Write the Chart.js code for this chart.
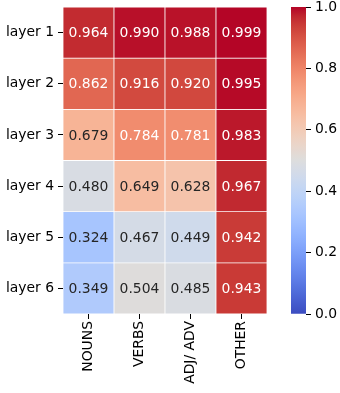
<!DOCTYPE html>
<html lang="en">
<head>
<meta charset="UTF-8" />
<title>Layer heatmap</title>
<script src="https://cdn.jsdelivr.net/npm/chart.js"></script>
<style>
    body { margin: 0; background: #ffffff; width: 340px; height: 393px; overflow: hidden; position: relative; }
    #heatBox { position: absolute; left: 0; top: 0; width: 280px; height: 393px; }
    #cbarBox { position: absolute; left: 280px; top: 0; width: 60px; height: 393px; }
</style>
</head>
<body>
<div id="heatBox"><canvas id="heat"></canvas></div>
<div id="cbarBox"><canvas id="cbar"></canvas></div>

<script>
    // data
    const columns = ['NOUNS', 'VERBS', 'ADJ/ ADV', 'OTHER'];
    const layers = ['layer 1', 'layer 2', 'layer 3', 'layer 4', 'layer 5', 'layer 6'];
    const nouns  = [0.964, 0.862, 0.679, 0.480, 0.324, 0.349];
    const verbs  = [0.990, 0.916, 0.784, 0.649, 0.467, 0.504];
    const adjAdv = [0.988, 0.920, 0.781, 0.628, 0.449, 0.485];
    const other  = [0.999, 0.995, 0.983, 0.967, 0.942, 0.943];
    const cbarTicks = [0, 0.2, 0.4, 0.6, 0.8, 1.0];

    const FONT = { family: "'DejaVu Sans', sans-serif", size: 13.9 };

    // coolwarm colormap (Moreland table, 33 stops)
    const coolwarm = [
        [59,76,192],[68,90,204],[77,104,215],[87,117,225],[98,130,234],[108,142,241],
        [119,154,247],[130,165,251],[141,176,254],[152,185,255],[163,194,255],[174,201,253],
        [184,208,249],[194,213,244],[204,217,238],[213,219,230],[221,221,221],[229,216,209],
        [236,211,197],[241,204,184],[245,196,172],[247,187,159],[247,177,147],[247,166,134],
        [244,154,123],[241,141,111],[236,127,99],[229,112,88],[222,96,77],[213,80,66],
        [203,62,56],[192,40,47],[180,4,38]
    ];

    function cmap(v) {
        const t = Math.min(1, Math.max(0, v)) * (coolwarm.length - 1);
        const i = Math.min(Math.floor(t), coolwarm.length - 2);
        const f = t - i;
        const a = coolwarm[i], b = coolwarm[i + 1];
        return a.map((c, k) => Math.round(c + (b[k] - c) * f));
    }
    const rgb = c => `rgb(${c[0]},${c[1]},${c[2]})`;

    function luminance(c) {
        const lin = c.map(x => {
            x /= 255;
            return x <= 0.03928 ? x / 12.92 : Math.pow((x + 0.055) / 1.055, 2.4);
        });
        return 0.2126 * lin[0] + 0.7152 * lin[1] + 0.0722 * lin[2];
    }

    // no extra room for half labels at the ends of an axis
    function noEndPadding(scale) {
        scale.paddingTop = 0;
        scale.paddingBottom = 0;
        scale.paddingLeft = 0;
        scale.paddingRight = 0;
    }

    // rows of the matrix, from the column arrays
    const matrix = layers.map((_, i) => [nouns[i], verbs[i], adjAdv[i], other[i]]);

    const datasets = layers.map((name, i) => ({
        label: name,
        data: columns.map(() => [i, i + 1]),
        backgroundColor: matrix[i].map(v => rgb(cmap(v))),
        borderColor: '#ffffff',
        borderWidth: 0.75,
        borderSkipped: false,
        grouped: false,
        categoryPercentage: 1.0,
        barPercentage: 1.0,
        yAxisID: 'y'
    }));

    // write the value in each cell
    const annotate = {
        id: 'annotate',
        afterDatasetsDraw(chart) {
            const ctx = chart.ctx;
            ctx.save();
            ctx.font = `${FONT.size}px ${FONT.family}`;
            ctx.textAlign = 'center';
            ctx.textBaseline = 'middle';
            chart.data.datasets.forEach((ds, i) => {
                chart.getDatasetMeta(i).data.forEach((bar, j) => {
                    const v = matrix[i][j];
                    ctx.fillStyle = luminance(cmap(v)) > 0.408 ? '#262626' : '#ffffff';
                    ctx.fillText(v.toFixed(3), bar.x, (bar.y + bar.base) / 2 + 1);
                });
            });
            ctx.restore();
        }
    };

    new Chart(document.getElementById('heat'), {
        type: 'bar',
        data: { labels: columns, datasets: datasets },
        options: {
            responsive: true,
            maintainAspectRatio: false,
            animation: false,
            layout: { padding: { top: 7, right: 13, left: 0, bottom: 0 } },
            plugins: { legend: { display: false }, tooltip: { enabled: false } },
            scales: {
                x: {
                    grid: { display: true, drawOnChartArea: false, offset: false, tickLength: 5, tickColor: '#000000' },
                    border: { display: false },
                    ticks: { color: '#000000', font: FONT, maxRotation: 90, minRotation: 90, padding: 2 },
                    afterFit(scale) { scale.height = 79; noEndPadding(scale); }
                },
                y: {
                    display: false,
                    min: 0,
                    max: 6,
                    reverse: true
                },
                yl: {
                    type: 'category',
                    labels: layers,
                    position: 'left',
                    offset: true,
                    grid: { display: true, drawOnChartArea: false, offset: false, tickLength: 5, tickColor: '#000000' },
                    border: { display: false },
                    ticks: { color: '#000000', font: FONT, padding: 4 },
                    afterFit(scale) { scale.width = 63; noEndPadding(scale); }
                }
            }
        },
        plugins: [annotate]
    });

    // colorbar
    const cbarGradient = {
        id: 'cbarGradient',
        beforeDatasetsDraw(chart) {
            const area = chart.chartArea;
            const g = chart.ctx.createLinearGradient(0, area.bottom, 0, area.top);
            for (let k = 0; k <= 64; k++) g.addColorStop(k / 64, rgb(cmap(k / 64)));
            chart.data.datasets[0].backgroundColor = g;
            chart.getDatasetMeta(0).data.forEach(el => { el.options.backgroundColor = g; });
        }
    };

    new Chart(document.getElementById('cbar'), {
        type: 'bar',
        data: {
            labels: [''],
            datasets: [{ data: [[0, 1]], categoryPercentage: 1.0, barPercentage: 1.0, borderWidth: 0 }]
        },
        options: {
            responsive: true,
            maintainAspectRatio: false,
            animation: false,
            layout: { padding: { top: 7, left: 11, right: 0, bottom: 79 } },
            plugins: { legend: { display: false }, tooltip: { enabled: false } },
            scales: {
                x: { display: false },
                y: {
                    position: 'right',
                    min: 0,
                    max: 1,
                    afterBuildTicks(scale) { scale.ticks = cbarTicks.map(v => ({ value: v })); },
                    grid: { display: true, drawOnChartArea: false, tickLength: 5, tickColor: '#000000' },
                    border: { display: false },
                    ticks: { color: '#000000', font: FONT, padding: 4, callback: v => v.toFixed(1) },
                    afterFit(scale) { scale.width = 34; noEndPadding(scale); }
                }
            }
        },
        plugins: [cbarGradient]
    });
</script>
</body>
</html>
